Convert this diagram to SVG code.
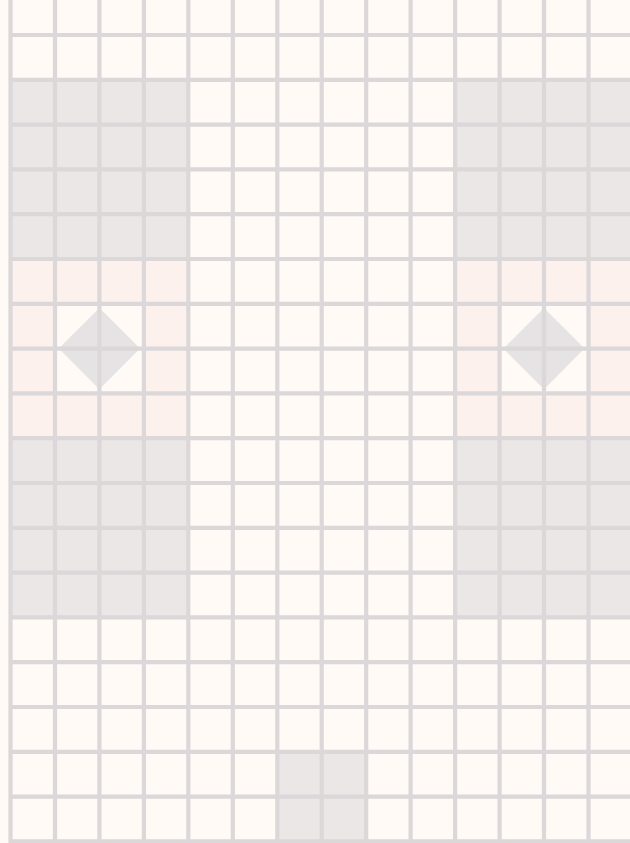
<svg xmlns="http://www.w3.org/2000/svg" width="630" height="843" viewBox="0 0 630 843">
  <style>
    .gray { fill: #eae7e6; }
    .pink { fill: #fdf1ed; }
    .white { fill: #fffaf6; }
    .diamond { fill: #e5e3e3; }
    .grid { stroke: #dcd8d9; stroke-width: 4.2; fill: none; }
  </style>
  <rect x="0" y="0" width="630" height="843" fill="#fffaf6"/>
  <g id="tiles-left">
    <rect class="gray" x="10.5" y="79.8" width="177.8" height="179.2"/>
    <rect class="pink" x="10.5" y="259" width="177.8" height="179.2"/>
    <rect class="white" x="55" y="303.8" width="88.9" height="89.6"/>
    <polygon class="diamond" points="99.4,308 140,348.6 99.4,389.2 58.8,348.6"/>
    <rect class="gray" x="10.5" y="438.2" width="177.8" height="179.2"/>
  </g>
  <g id="tiles-right">
    <rect class="gray" x="455.1" y="79.8" width="174.9" height="179.2"/>
    <rect class="pink" x="455.1" y="259" width="174.9" height="179.2"/>
    <rect class="white" x="499.6" y="303.8" width="88.9" height="89.6"/>
    <polygon class="diamond" points="544,308 584.6,348.6 544,389.2 503.4,348.6"/>
    <rect class="gray" x="455.1" y="438.2" width="174.9" height="179.2"/>
  </g>
  <g id="tiles-bottom">
    <rect class="gray" x="277.3" y="751.8" width="88.9" height="91.2"/>
  </g>
  <g id="grid" class="grid">
    <path d="M10.5,0V843M55,0V843M99.4,0V843M143.9,0V843M188.3,0V843M232.8,0V843M277.3,0V843M321.7,0V843M366.2,0V843M410.6,0V843M455.1,0V843M499.6,0V843M544,0V843M588.5,0V843"/>
    <path d="M10.5,35H630M10.5,79.8H630M10.5,124.6H630M10.5,169.4H630M10.5,214.2H630M10.5,259H630M10.5,303.8H630M10.5,348.6H630M10.5,393.4H630M10.5,438.2H630M10.5,483H630M10.5,527.8H630M10.5,572.6H630M10.5,617.4H630M10.5,662.2H630M10.5,707H630M10.5,751.8H630M10.5,796.6H630M10.5,841.4H630"/>
  </g>
</svg>
